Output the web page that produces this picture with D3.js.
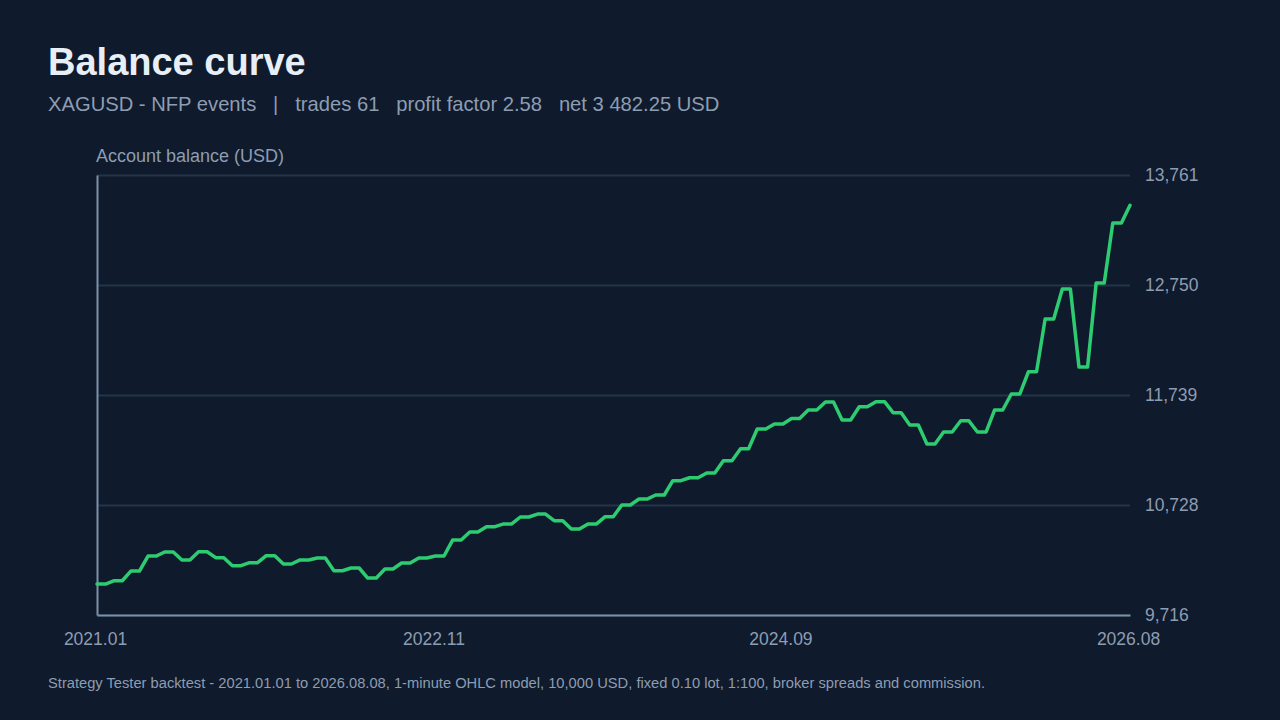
<!DOCTYPE html>
<html>
<head>
<meta charset="utf-8">
<script src="https://cdn.jsdelivr.net/npm/d3@7/dist/d3.min.js"></script>
<style>
  html, body { margin: 0; padding: 0; background: #0f1a2c; }
  svg { display: block; font-family: "Liberation Sans", Arial, sans-serif; }
</style>
</head>
<body>
<svg id="chart" width="1280" height="720"></svg>
<script>
// ---- data ----
const startDate = "2021-01-01";
const endDate = "2026-08-08";
const startBalance = 10000;
const tradeDates = [
  "2021-02-04","2021-03-09","2021-04-12","2021-05-15","2021-06-18","2021-07-21","2021-08-24","2021-09-26","2021-10-30","2021-12-02",
  "2022-01-05","2022-02-07","2022-03-13","2022-04-15","2022-05-19","2022-06-21","2022-07-25","2022-08-27","2022-09-30","2022-11-02",
  "2022-12-06","2023-01-09","2023-02-11","2023-03-17","2023-04-19","2023-05-23","2023-06-25","2023-07-29","2023-08-31","2023-10-04",
  "2023-11-06","2023-12-10","2024-01-12","2024-02-15","2024-03-19","2024-04-22","2024-05-25","2024-06-28","2024-07-31","2024-09-03",
  "2024-10-07","2024-11-09","2024-12-13","2025-01-15","2025-02-18","2025-03-23","2025-04-26","2025-05-29","2025-07-02","2025-08-04",
  "2025-09-07","2025-10-10","2025-11-13","2025-12-16","2026-01-19","2026-02-21","2026-03-27","2026-04-29","2026-06-02","2026-07-05",
  "2026-08-08"
];
const balances = [
  10031, 10120, 10258, 10295, 10222, 10298, 10243, 10169, 10197, 10261,
  10185, 10222, 10240, 10123, 10148, 10056, 10139, 10194, 10240, 10258,
  10405, 10479, 10528, 10553, 10617, 10644, 10583, 10507, 10553, 10620,
  10727, 10782, 10819, 10951, 10978, 11021, 11135, 11245, 11426, 11472,
  11522, 11601, 11674, 11509, 11631, 11677, 11576, 11463, 11288, 11398,
  11502, 11398, 11601, 11748, 11953, 12437, 12713, 11996, 12768, 13320,
  13482.25
];
const yTicks = [9716, 10728, 11739, 12750, 13761];
const xTicks = ["2021-01-01", "2022-11-02", "2024-09-19", "2026-08-08"];

const titleText = "Balance curve";
const subtitleText = "XAGUSD - NFP events   |   trades 61   profit factor 2.58   net 3 482.25 USD";
const axisTitle = "Account balance (USD)";
const footerText = "Strategy Tester backtest - 2021.01.01 to 2026.08.08, 1-minute OHLC model, 10,000 USD, fixed 0.10 lot, 1:100, broker spreads and commission.";

// ---- layout / style ----
const RAMP_DAYS = 17;
const plot = { left: 97, right: 1130, top: 175, bottom: 615 };
const C = {
  title: "#e8eef6", sub: "#8d9db2", tick: "#8d9db2", axis: "#7f90a6",
  grid: "#24344a", line: "#2ecc71"
};

const parse = d3.utcParse("%Y-%m-%d");
const svg = d3.select("#chart");

const x = d3.scaleUtc()
  .domain([parse(startDate), parse(endDate)])
  .range([plot.left, plot.right]);
const y = d3.scaleLinear()
  .domain([yTicks[0], yTicks[yTicks.length - 1]])
  .range([plot.bottom, plot.top]);

// title etc.
svg.append("text").attr("x", 48).attr("y", 75)
  .attr("fill", C.title).attr("font-size", 38).attr("font-weight", "bold")
  .text(titleText);
svg.append("text").attr("x", 48).attr("y", 111)
  .attr("fill", C.sub).attr("font-size", 20.2).style("white-space", "pre")
  .text(subtitleText);
svg.append("text").attr("x", 96).attr("y", 162)
  .attr("fill", C.sub).attr("font-size", 18)
  .text(axisTitle);
svg.append("text").attr("x", 48).attr("y", 688)
  .attr("fill", C.sub).attr("font-size", 14.7)
  .text(footerText);

// grid + right axis labels
const yAxis = d3.axisRight(y)
  .tickValues(yTicks)
  .tickSize(-(plot.right - plot.left))
  .tickPadding(15)
  .tickFormat(d3.format(","));
const gy = svg.append("g").attr("transform", `translate(${plot.right},0)`).call(yAxis);
gy.select(".domain").remove();
gy.selectAll(".tick line").attr("stroke", C.grid).attr("stroke-width", 2);
gy.selectAll(".tick text").attr("fill", C.tick).attr("font-size", 17.5)
  .attr("font-family", "Liberation Sans, Arial, sans-serif");

// bottom axis
const xAxis = d3.axisBottom(x)
  .tickValues(xTicks.map(parse))
  .tickSize(0)
  .tickPadding(18)
  .tickFormat(d3.utcFormat("%Y.%m"));
const gx = svg.append("g").attr("transform", `translate(0,${plot.bottom})`).call(xAxis);
gx.select(".domain").attr("stroke", C.axis).attr("stroke-width", 2);
gx.selectAll(".tick text").attr("fill", C.tick).attr("font-size", 17.5)
  .attr("dx", -2)
  .attr("font-family", "Liberation Sans, Arial, sans-serif");

// left axis line
const gl = svg.append("g").attr("transform", `translate(${plot.left},0)`)
  .call(d3.axisLeft(y).tickValues([]).tickSizeOuter(0));
gl.select(".domain").attr("stroke", C.axis).attr("stroke-width", 2);

// balance path: flat until shortly before each trade closes, then ramp to new balance
const pts = [{ d: parse(startDate), v: startBalance }];
tradeDates.forEach((s, i) => {
  const close = parse(s);
  const prev = i === 0 ? startBalance : balances[i - 1];
  pts.push({ d: d3.utcDay.offset(close, -RAMP_DAYS), v: prev });
  pts.push({ d: close, v: balances[i] });
});

const line = d3.line().x(p => x(p.d)).y(p => y(p.v));
svg.append("path").datum(pts)
  .attr("fill", "none").attr("stroke", C.line).attr("stroke-width", 3.5)
  .attr("stroke-linejoin", "round").attr("stroke-linecap", "round")
  .attr("d", line);
</script>
</body>
</html>
